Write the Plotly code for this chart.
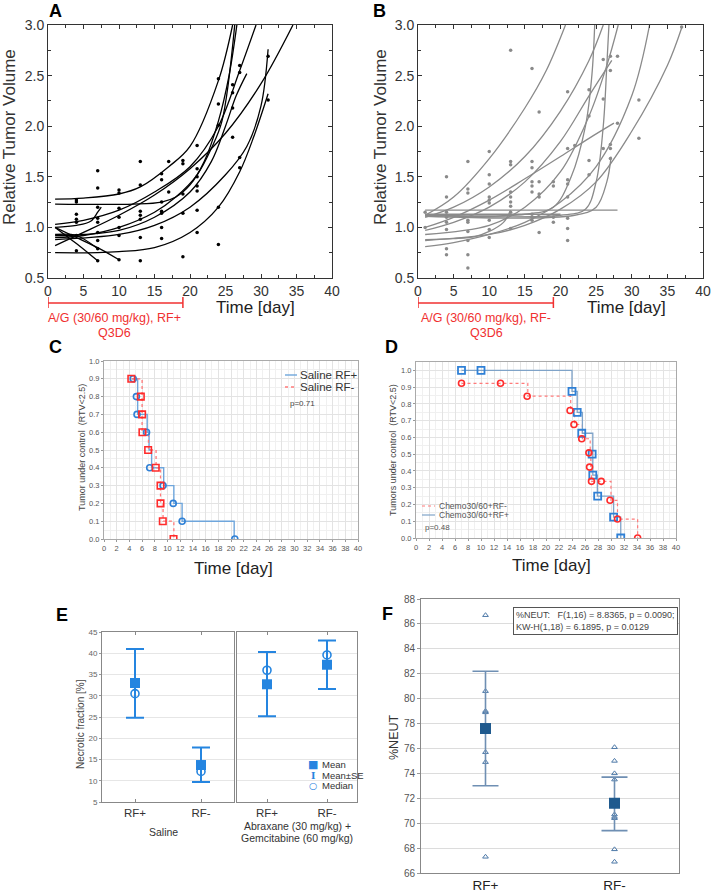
import plotly.graph_objects as go

W, H = 711, 892
FONT = "Arial, Liberation Sans, sans-serif"

# ---------------- panel A : RF+ fitted growth (black) ----------------
a_pts_x = [4, 4, 4, 4, 4, 4, 4, 7, 7, 7, 7, 7, 7, 7, 7, 7, 10, 10, 10, 10, 10, 10, 10,
           13, 13, 13, 13, 13, 13, 13, 16, 16, 16, 16, 16, 16, 16, 17, 17,
           19, 19, 19, 19, 19, 21, 21, 21, 21, 21, 21, 21, 24, 24, 24, 24, 24,
           26, 26, 26, 26, 27, 27, 27, 27, 31, 31]
a_pts_y = [1.27, 1.25, 1.13, 1.08, 1.05, 0.92, 0.77, 1.56, 1.39, 1.20, 1.09, 1.05, 0.95, 0.87, 0.79, 0.67,
           1.37, 1.34, 1.19, 1.10, 1.00, 0.92, 0.68, 1.65, 1.42, 1.16, 1.12, 1.08, 0.90, 0.67,
           1.53, 1.47, 1.25, 1.16, 1.14, 1.00, 0.89, 1.65, 1.35, 1.66, 1.63, 1.33, 1.14, 0.71,
           1.81, 1.58, 1.50, 1.41, 1.36, 1.17, 0.95, 2.47, 2.22, 2.01, 1.20, 0.83,
           2.41, 2.33, 2.18, 1.89, 2.60, 2.53, 1.69, 1.59, 2.69, 2.26]
a_curves_x = [
    [1, 5, 10, 13, 17, 20, 24, 26],
    [1, 12, 16, 18, 20, 22, 24, 25.5, 26.6],
    [1, 4, 6, 7, 7.5],
    [1, 5, 10, 15, 20, 24, 27, 29.3],
    [1, 5, 10, 15, 20, 25, 30, 34.5],
    [1, 5, 10, 15, 18, 21, 23, 24.5, 26.3],
    [1, 5, 10, 15, 20, 23, 25, 26.5, 28],
    [1, 10, 15, 20, 25, 28, 30, 31],
    [1, 7, 10, 15, 20, 24, 27, 29, 31],
    [1, 4, 7],
    [1, 4, 7, 10],
    [1, 4, 7],
]
a_curves_y = [
    [1.28, 1.29, 1.33, 1.40, 1.60, 1.80, 2.45, 3.0],
    [1.23, 1.23, 1.25, 1.30, 1.42, 1.65, 2.05, 2.5, 3.0],
    [1.0, 1.02, 1.06, 1.15, 1.20],
    [1.03, 1.07, 1.17, 1.35, 1.60, 2.0, 2.55, 3.0],
    [0.82, 0.95, 1.12, 1.32, 1.58, 1.93, 2.42, 3.0],
    [0.90, 0.92, 1.0, 1.15, 1.30, 1.52, 1.78, 2.05, 3.0],
    [0.92, 0.93, 0.97, 1.10, 1.35, 1.65, 2.0, 2.3, 2.52],
    [0.88, 0.93, 1.02, 1.20, 1.52, 1.80, 2.20, 2.76],
    [0.75, 0.75, 0.76, 0.80, 0.95, 1.20, 1.55, 1.90, 2.32],
    [1.0, 0.84, 0.67],
    [1.0, 0.90, 0.80, 0.68],
    [0.93, 0.92, 0.79],
]

# ---------------- panel B : RF- fitted growth (grey) ----------------
b_pts_x = [1, 1, 4, 4, 4, 4, 4, 4, 4, 4, 7, 7, 7, 7, 7, 7, 7, 7, 7,
           10, 10, 10, 10, 10, 10, 10, 10, 10, 13, 13, 13, 13, 13, 13, 13, 13, 13,
           16, 16, 16, 16, 16, 16, 16, 16, 16, 17, 17, 17, 17, 17, 19, 19, 19, 19,
           21, 21, 21, 21, 21, 21, 21, 21, 22, 24, 24, 24, 24, 26, 26, 26,
           27, 27, 27, 27, 27, 28, 28, 31, 31, 37]
b_pts_y = [1.15, 1.0, 1.50, 1.30, 1.15, 1.10, 1.05, 0.98, 0.79, 0.73,
           1.65, 1.38, 1.34, 1.07, 1.05, 0.96, 0.87, 0.73, 0.60,
           1.75, 1.52, 1.43, 1.30, 1.27, 1.24, 1.07, 0.98, 0.90,
           2.75, 1.65, 1.62, 1.35, 1.30, 1.25, 1.21, 1.15, 0.99,
           2.57, 1.65, 1.59, 1.45, 1.41, 1.35, 1.13, 1.10, 1.07,
           2.14, 1.45, 1.33, 1.30, 0.95, 1.45, 1.41, 1.10, 1.05,
           2.34, 1.78, 1.47, 1.43, 1.30, 1.09, 0.99, 0.87, 1.81,
           2.36, 2.10, 1.66, 1.52, 2.66, 2.27, 1.78,
           2.69, 2.55, 1.82, 1.78, 1.68, 2.69, 2.03, 2.26, 1.88, 2.98]
b_curves_x = [
    [1, 5, 10, 15, 18, 20.7],
    [1, 5, 10, 15, 20, 24, 26],
    [1, 5, 10, 15, 20, 24, 27.5],
    [1, 5, 10, 15, 20, 24, 27.2],
    [1, 15, 19, 21.5, 23.5, 24.4, 24.8],
    [1, 20, 23.5, 25, 26, 26.5, 26.8],
    [1, 22, 25, 26.5, 27.1],
    [1, 10, 15, 20, 24, 26.5, 28.1],
    [1, 5, 10, 15, 20, 25, 30, 32.5],
    [1, 10, 15, 20, 25, 30, 35, 37],
    [1, 28],
    [1, 5, 8, 10, 12, 13],
    [1, 20],
]
b_curves_y = [
    [1.12, 1.30, 1.68, 2.18, 2.55, 3.0],
    [1.10, 1.20, 1.40, 1.70, 2.15, 2.65, 3.0],
    [1.0, 1.10, 1.27, 1.48, 1.70, 1.88, 2.03],
    [0.97, 1.05, 1.20, 1.45, 1.85, 2.30, 2.65],
    [1.12, 1.13, 1.20, 1.50, 2.0, 2.5, 3.0],
    [1.12, 1.12, 1.18, 1.45, 2.0, 2.6, 3.0],
    [1.11, 1.12, 1.20, 1.45, 1.70],
    [0.93, 1.02, 1.20, 1.55, 2.10, 2.60, 3.0],
    [0.81, 0.85, 0.93, 1.05, 1.25, 1.60, 2.30, 3.0],
    [0.87, 0.93, 1.02, 1.18, 1.45, 1.95, 2.60, 2.97],
    [1.17, 1.17],
    [0.88, 0.89, 0.91, 0.96, 1.05, 1.17],
    [1.13, 1.13],
]

# ---------------- panel C : Kaplan-Meier saline ----------------
c_plus_step_t = [4.4, 5.3, 6.8, 7.1, 7.5, 9.4, 11.0, 12.3, 20.5]
c_plus_step_s = [0.9, 0.7, 0.6, 0.5, 0.4, 0.3, 0.2, 0.1, 0.0]
c_plus_mark_t = [4.6, 5.1, 5.2, 6.7, 7.2, 9.3, 10.9, 12.3, 20.6]
c_plus_mark_s = [0.9, 0.8, 0.7, 0.6, 0.4, 0.3, 0.2, 0.1, 0.0]
c_minus_step_t = [4.3, 6.0, 7.0, 8.2, 8.9, 9.3, 11.0]
c_minus_step_s = [0.9, 0.6, 0.5, 0.4, 0.2, 0.1, 0.0]
c_minus_mark_t = [4.3, 5.8, 6.0, 6.05, 6.95, 8.15, 8.9, 8.9, 9.26, 10.95]
c_minus_mark_s = [0.9, 0.8, 0.7, 0.6, 0.5, 0.4, 0.3, 0.2, 0.1, 0.0]

# ---------------- panel D : Kaplan-Meier chemo ----------------
d_plus_step_t = [7.0, 24.0, 24.8, 25.6, 27.2, 27.2, 27.9, 30.4, 31.5]
d_plus_step_s = [1.0, 0.875, 0.75, 0.625, 0.5, 0.375, 0.25, 0.125, 0.0]
d_plus_mark_t = [7.0, 10.0, 24.0, 24.8, 25.5, 27.1, 27.2, 27.95, 30.4, 31.5]
d_plus_mark_s = [1.0, 1.0, 0.875, 0.75, 0.625, 0.5, 0.375, 0.25, 0.125, 0.0]
d_minus_step_t = [7.0, 17.2, 23.8, 24.4, 25.6, 26.8, 26.9, 27.0, 30.0, 31.0, 34.1]
d_minus_step_s = [0.923, 0.846, 0.761, 0.677, 0.592, 0.508, 0.423, 0.338, 0.225, 0.113, 0.0]
d_minus_mark_t = [7.0, 13.0, 17.1, 23.7, 24.3, 25.5, 26.6, 26.7, 27.0, 28.5, 29.85, 31.0, 34.1]
d_minus_mark_s = [0.923, 0.923, 0.846, 0.761, 0.677, 0.592, 0.508, 0.423, 0.338, 0.338, 0.225, 0.113, 0.0]

# ---------------- panel E : necrotic fraction ----------------
e_groups = ["RF+", "RF-"]
e_saline_mean = [33.0, 13.7]
e_saline_median = [30.5, 12.2]
e_saline_hi = [41.0, 17.8]
e_saline_lo = [24.8, 9.7]
e_chemo_mean = [32.7, 37.3]
e_chemo_median = [36.0, 39.6]
e_chemo_hi = [40.3, 43.0]
e_chemo_lo = [25.2, 31.6]

# ---------------- panel F : %NEUT ----------------
f_groups = ["RF+", "RF-"]
f_rfp_vals = [86.7, 80.6, 79.0, 78.9, 75.7, 74.9, 67.3]
f_rfm_vals = [76.1, 75.0, 74.0, 73.5, 70.7, 70.5, 70.4, 67.9, 66.9]
f_mean = [77.6, 71.6]
f_hi = [82.2, 73.7]
f_lo = [73.0, 69.4]


def dom_x(x0, x1):
    return [x0 / W, x1 / W]


def dom_y(y0, y1):
    return [1 - y1 / H, 1 - y0 / H]


def px(x):
    return x / W


def py(y):
    return 1 - y / H


fig = go.Figure()

# A / B growth curves
for cx, cy in zip(a_curves_x, a_curves_y):
    fig.add_trace(go.Scatter(x=cx, y=cy, mode="lines", line=dict(color="black", width=1.3, shape="spline"),
                             showlegend=False, hoverinfo="skip", xaxis="x", yaxis="y"))
fig.add_trace(go.Scatter(x=a_pts_x, y=a_pts_y, mode="markers", marker=dict(color="black", size=3.5),
                         showlegend=False, xaxis="x", yaxis="y"))
for cx, cy in zip(b_curves_x, b_curves_y):
    fig.add_trace(go.Scatter(x=cx, y=cy, mode="lines", line=dict(color="#8a8a8a", width=1.3, shape="spline"),
                             showlegend=False, hoverinfo="skip", xaxis="x2", yaxis="y2"))
fig.add_trace(go.Scatter(x=b_pts_x, y=b_pts_y, mode="markers", marker=dict(color="#8a8a8a", size=3.5),
                         showlegend=False, xaxis="x2", yaxis="y2"))

# C
blue_line, red_line = "#6fa6dc", "#ff7a7a"
blue_mk, red_mk = "#2f80d6", "#ff2b2b"
fig.add_trace(go.Scatter(x=c_plus_step_t, y=c_plus_step_s, mode="lines", showlegend=False,
                         line=dict(color=blue_line, width=1.4, shape="hv"), xaxis="x3", yaxis="y3"))
fig.add_trace(go.Scatter(x=c_minus_step_t, y=c_minus_step_s, mode="lines", showlegend=False,
                         line=dict(color=red_line, width=1.3, shape="hv", dash="dot"), xaxis="x3", yaxis="y3"))
fig.add_trace(go.Scatter(x=c_plus_mark_t, y=c_plus_mark_s, mode="markers", showlegend=False,
                         marker=dict(symbol="circle-open", color=blue_mk, size=6, line=dict(width=1.6)),
                         xaxis="x3", yaxis="y3"))
fig.add_trace(go.Scatter(x=c_minus_mark_t, y=c_minus_mark_s, mode="markers", showlegend=False,
                         marker=dict(symbol="square-open", color=red_mk, size=6.5, line=dict(width=1.6)),
                         xaxis="x3", yaxis="y3"))

# D
d_blue_line = "#7fa3c8"
fig.add_trace(go.Scatter(x=d_minus_step_t, y=d_minus_step_s, mode="lines", showlegend=False,
                         line=dict(color=red_line, width=1.2, shape="hv", dash="dot"), xaxis="x4", yaxis="y4"))
fig.add_trace(go.Scatter(x=d_plus_step_t, y=d_plus_step_s, mode="lines", showlegend=False,
                         line=dict(color=d_blue_line, width=1.3, shape="hv"), xaxis="x4", yaxis="y4"))
fig.add_trace(go.Scatter(x=d_plus_mark_t, y=d_plus_mark_s, mode="markers", showlegend=False,
                         marker=dict(symbol="square-open", color=blue_mk, size=7, line=dict(width=1.8)),
                         xaxis="x4", yaxis="y4"))
fig.add_trace(go.Scatter(x=d_minus_mark_t, y=d_minus_mark_s, mode="markers", showlegend=False,
                         marker=dict(symbol="circle-open", color=red_mk, size=6, line=dict(width=1.6)),
                         xaxis="x4", yaxis="y4"))

# E
e_blue = "#2585e0"
for xa, ya, mean, med, hi, lo in [("x5", "y5", e_saline_mean, e_saline_median, e_saline_hi, e_saline_lo),
                                  ("x6", "y6", e_chemo_mean, e_chemo_median, e_chemo_hi, e_chemo_lo)]:
    up = [h - m for h, m in zip(hi, mean)]
    dn = [m - l for m, l in zip(mean, lo)]
    fig.add_trace(go.Scatter(x=e_groups, y=mean, mode="markers", showlegend=False,
                             marker=dict(symbol="square", size=10, color=e_blue),
                             error_y=dict(type="data", array=up, arrayminus=dn, color=e_blue, thickness=2, width=9),
                             xaxis=xa, yaxis=ya))
    fig.add_trace(go.Scatter(x=e_groups, y=med, mode="markers", showlegend=False,
                             marker=dict(symbol="circle-open", size=8, color=e_blue, line=dict(width=1.6)),
                             xaxis=xa, yaxis=ya))

# F
f_line = "#6f8fb3"
fig.add_trace(go.Scatter(x=[f_groups[0]] * len(f_rfp_vals) + [f_groups[1]] * len(f_rfm_vals),
                         y=f_rfp_vals + f_rfm_vals, mode="markers", showlegend=False,
                         marker=dict(symbol="triangle-up-open", size=5, color="#4d79a8", line=dict(width=1)),
                         xaxis="x7", yaxis="y7"))
fig.add_trace(go.Scatter(x=f_groups, y=f_mean, mode="markers", showlegend=False,
                         marker=dict(symbol="square", size=11, color="#1f5a8e"),
                         error_y=dict(type="data", array=[h - m for h, m in zip(f_hi, f_mean)],
                                      arrayminus=[m - l for m, l in zip(f_mean, f_lo)],
                                      color=f_line, thickness=1.6, width=13),
                         xaxis="x7", yaxis="y7"))

# ---------------- axes ----------------
ab_x = dict(range=[0, 40], dtick=5, ticks="inside", ticklen=4, tickcolor="#333", showline=True, linecolor="#333",
            linewidth=1, mirror="allticks", showgrid=False, zeroline=False, automargin=False,
            minor=dict(dtick=2.5, ticks="inside", ticklen=3, tickcolor="#333"),
            tickfont=dict(family=FONT, size=14, color="#333"))
ab_y = dict(range=[0.5, 3.0], dtick=0.5, tickformat=".1f", ticks="inside", ticklen=4, tickcolor="#333",
            showline=True, linecolor="#333", linewidth=1, mirror="allticks", showgrid=False, zeroline=False,
            automargin=False, minor=dict(dtick=0.25, ticks="inside", ticklen=3, tickcolor="#333"),
            tickfont=dict(family=FONT, size=14, color="#333"))

km_x = dict(range=[0, 40], dtick=2, ticks="outside", ticklen=2, tickcolor="#999", showline=True, linecolor="#aaa",
            mirror=True, showgrid=True, gridcolor="#e3e3e3", gridwidth=1, zeroline=False, automargin=False,
            minor=dict(dtick=1, showgrid=True, gridcolor="#f0f0f0"),
            tickfont=dict(family=FONT, size=7.5, color="#555"))
km_y = dict(dtick=0.1, tickformat=".1f", ticks="outside", ticklen=2, tickcolor="#999", showline=True, linecolor="#aaa",
            mirror=True, showgrid=True, gridcolor="#e3e3e3", zeroline=False, automargin=False,
            minor=dict(dtick=0.05, showgrid=True, gridcolor="#f0f0f0"),
            tickfont=dict(family=FONT, size=7.5, color="#555"))

e_x = dict(type="category", range=[-0.5, 1.5], ticks="inside", ticklen=3, tickcolor="#888", showline=True,
           linecolor="#888", mirror="ticks", showgrid=False, automargin=False,
           tickfont=dict(family=FONT, size=11.5, color="#333"))
e_y = dict(range=[5, 45], dtick=5, ticks="outside", ticklen=2, tickcolor="#999", showline=True, linecolor="#888",
           mirror=True, showgrid=True, gridcolor="#e6e6e6", zeroline=False, automargin=False,
           tickfont=dict(family=FONT, size=8, color="#666"))

fig.update_layout(
    width=W, height=H, margin=dict(l=0, r=0, t=0, b=0, autoexpand=False),
    paper_bgcolor="white", plot_bgcolor="white", showlegend=False,
    font=dict(family=FONT),
    xaxis=dict(ab_x, domain=dom_x(48, 332), anchor="y"),
    yaxis=dict(ab_y, domain=dom_y(25, 278), anchor="x"),
    xaxis2=dict(ab_x, domain=dom_x(418, 703), anchor="y2"),
    yaxis2=dict(ab_y, domain=dom_y(25, 278), anchor="x2"),
    xaxis3=dict(km_x, domain=dom_x(104, 358), anchor="y3"),
    yaxis3=dict(km_y, range=[0, 1.0], domain=dom_y(361, 539), anchor="x3"),
    xaxis4=dict(km_x, domain=dom_x(416, 676), anchor="y4"),
    yaxis4=dict(km_y, range=[0, 1.05], domain=dom_y(362, 538), anchor="x4"),
    xaxis5=dict(e_x, domain=dom_x(102, 234), anchor="y5"),
    yaxis5=dict(e_y, domain=dom_y(632, 802), anchor="x5"),
    xaxis6=dict(e_x, domain=dom_x(237, 357), anchor="y6"),
    yaxis6=dict(e_y, domain=dom_y(632, 802), anchor="x6", showticklabels=False, ticks=""),
    xaxis7=dict(type="category", range=[-0.5, 1.5], domain=dom_x(421, 679), anchor="y7", showline=True,
                linecolor="#888", mirror=True, ticks="", showgrid=False, automargin=False,
                tickfont=dict(family=FONT, size=13.5, color="#222")),
    yaxis7=dict(range=[66, 88], dtick=2, domain=dom_y(599, 873), anchor="x7", showline=True, linecolor="#888",
                mirror=True, ticks="outside", ticklen=3, tickcolor="#999", showgrid=True, gridcolor="#dcdcdc",
                zeroline=False, automargin=False, tickfont=dict(family=FONT, size=10, color="#555")),
)

# ---------------- text ----------------
ann = []


def txt(x, y, s, size, color="#222", bold=False, angle=0, xanchor="center", family=FONT):
    ann.append(dict(x=px(x), y=py(y), xref="paper", yref="paper", text=f"<b>{s}</b>" if bold else s,
                    showarrow=False, textangle=angle, xanchor=xanchor, yanchor="middle",
                    font=dict(family=family, size=size, color=color)))


txt(55, 11, "A", 18, "black", bold=True)
txt(379, 11, "B", 18, "black", bold=True)
txt(55, 347, "C", 18, "black", bold=True)
txt(391, 347, "D", 18, "black", bold=True)
txt(62, 615, "E", 18, "black", bold=True)
txt(387, 614, "F", 18, "black", bold=True)

txt(9, 137, "Relative Tumor Volume", 17, "#333", angle=-90)
txt(380, 137, "Relative Tumor Volume", 17, "#333", angle=-90)
txt(255, 307, "Time [day]", 17, "#222")
txt(626, 307, "Time [day]", 17, "#222")
red = "#f03030"
txt(114, 318, "A/G (30/60 mg/kg), RF+", 12.5, red)
txt(114, 333, "Q3D6", 12.5, red)
txt(486, 318, "A/G (30/60 mg/kg), RF-", 12.5, red)
txt(486, 333, "Q3D6", 12.5, red)

txt(82, 448, "Tumor under control  (RTV<2.5)", 9, "#444", angle=-90)
txt(234, 568, "Time [day]", 17, "#222")
txt(298, 375, "Saline RF+", 11.5, "#333", xanchor="left")
txt(298, 387, "Saline RF-", 11.5, "#333", xanchor="left")
txt(288, 403, "p=0.71", 8, "#444", xanchor="left")
txt(393, 450, "Tumors under control  (RTV<2.5)", 9, "#444", angle=-90)
txt(551, 565, "Time [day]", 17, "#222")
txt(437, 506, "Chemo30/60+RF-", 8.5, "#555", xanchor="left")
txt(437, 515, "Chemo30/60+RF+", 8.5, "#555", xanchor="left")
txt(423, 527, "p=0.48", 8, "#555", xanchor="left")

txt(80, 724, "Necrotic fraction [%]", 10, "#444", angle=-90)
txt(163, 832, "Saline", 10.5, "#333")
txt(297, 826, "Abraxane (30 mg/kg) +", 10.5, "#333")
txt(297, 838, "Gemcitabine (60 mg/kg)", 10.5, "#333")
# E legend
txt(313, 764, "■", 11, e_blue, family="DejaVu Sans")
txt(313, 775, "I", 9.5, e_blue, bold=True, family="DejaVu Serif")
txt(313, 785, "○", 9.5, e_blue, bold=True, family="DejaVu Sans")
txt(320, 764, "Mean", 9.5, "#333", xanchor="left")
txt(320, 775, "Mean±SE", 9.5, "#333", xanchor="left")
txt(320, 785, "Median", 9.5, "#333", xanchor="left")

txt(394, 737, "%NEUT", 12.5, "#333", angle=-90)
ann.append(dict(x=px(513), y=py(607), xref="paper", yref="paper", xanchor="left", yanchor="top",
                text="%NEUT:   F(1,16) = 8.8365, p = 0.0090;<br>KW-H(1,18) = 6.1895, p = 0.0129",
                showarrow=False, align="left", bordercolor="#555", borderwidth=1, borderpad=2, bgcolor="white",
                font=dict(family=FONT, size=9, color="#444")))
fig.update_layout(annotations=ann)

shapes = []
# red treatment brackets (days 0-19)
for xr in ["x", "x2"]:
    shapes.append(dict(type="line", xref=xr, yref="paper", x0=0, x1=19, y0=py(303), y1=py(303),
                       line=dict(color=red, width=1.5)))
    for xv in [0, 19]:
        shapes.append(dict(type="line", xref=xr, yref="paper", x0=xv, x1=xv, y0=py(297), y1=py(308),
                           line=dict(color=red, width=1.5)))
# legend line samples for C and D
for x0, x1, yy, col, dash, wd in [(285, 297, 375, blue_line, "solid", 1.4), (285, 297, 387, red_line, "dot", 1.3),
                                  (422, 435, 506, red_line, "dot", 1.2), (422, 435, 515, d_blue_line, "solid", 1.2)]:
    shapes.append(dict(type="line", xref="paper", yref="paper", x0=px(x0), x1=px(x1), y0=py(yy), y1=py(yy),
                       line=dict(color=col, width=wd, dash=dash)))
fig.update_layout(shapes=shapes)

fig.write_html("out.html", config={"displayModeBar": False},
               post_script="document.body.style.margin='0px';")
